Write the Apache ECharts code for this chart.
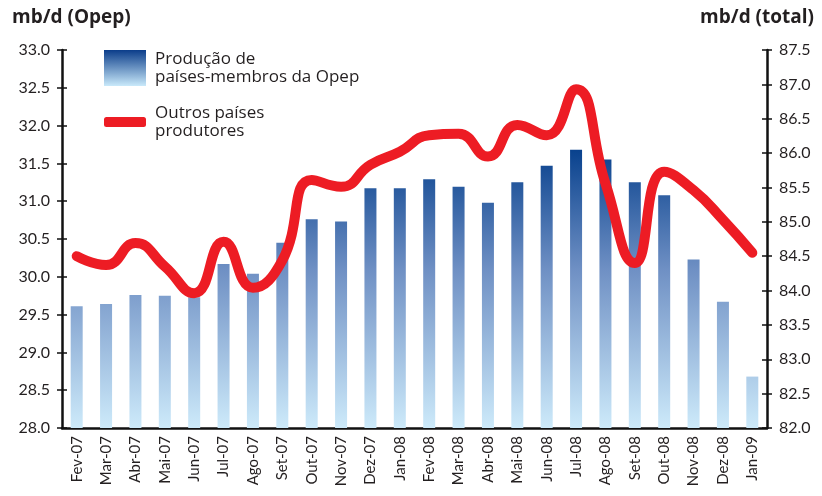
<!DOCTYPE html>
<html>
<head>
<meta charset="utf-8">
<script src="https://cdn.jsdelivr.net/npm/echarts@6/dist/echarts.min.js"></script>
<style>
  html, body { margin: 0; padding: 0; background: #fff; }
  #chart { width: 822px; height: 496px; }
</style>
</head>
<body>
<div id="chart"></div>
<script>
var months = ['Fev-07','Mar-07','Abr-07','Mai-07','Jun-07','Jul-07','Ago-07','Set-07','Out-07','Nov-07','Dez-07','Jan-08',
              'Fev-08','Mar-08','Abr-08','Mai-08','Jun-08','Jul-08','Ago-08','Set-08','Out-08','Nov-08','Dez-08','Jan-09'];
// produção Opep (mb/d, eixo esquerdo)
var opep = [29.61, 29.64, 29.76, 29.75, 29.73, 30.17, 30.04, 30.45, 30.76, 30.73, 31.17, 31.17,
            31.29, 31.19, 30.98, 31.25, 31.47, 31.68, 31.55, 31.25, 31.08, 30.23, 29.67, 28.68];
// outros países (mb/d total, eixo direito)
var outros = [84.50, 84.37, 84.69, 84.35, 83.96, 84.71, 84.04, 84.44, 85.61, 85.51, 85.83, 86.02,
              86.26, 86.28, 85.95, 86.41, 86.26, 86.93, 85.56, 84.40, 85.73, 85.46, 85.03, 84.55];

var nameOpep = 'Produção de\npaíses-membros da Opep';
var nameOutros = 'Outros países\nprodutores';

var font = 'Lato';
var chart = echarts.init(document.getElementById('chart'));

var barGrad = new echarts.graphic.LinearGradient(0, 140, 0, 428, [
  { offset: 0, color: '#003b89' },
  { offset: 0.45, color: '#6f90c4' },
  { offset: 1, color: '#cdeafa' }
], true);

function yAx(pos, min, max, inside) {
  return {
    type: 'value', position: pos, min: min, max: max, interval: 0.5,
    splitLine: { show: false },
    axisLine: { show: !inside, lineStyle: { color: '#111', width: 2.5 } },
    axisTick: { show: true, inside: !!inside, length: 5, lineStyle: { color: '#111', width: 1.5 } },
    axisLabel: {
      show: !inside, color: '#231f20', fontFamily: font, fontSize: 16, margin: 12,
      formatter: function (v) { return v.toFixed(1); }
    }
  };
}

var legendText = { fontFamily: 'Open Sans', fontSize: 17, lineHeight: 18, color: '#231f20', padding: [0, 0, 0, 4] };

var option = {
  animation: false,
  grid: { left: 62, right: 55, top: 50, bottom: 68 },
  graphic: [
    { type: 'text', left: 12, top: 8, style: { text: 'mb/d (Opep)', font: '700 19px "Open Sans"', fill: '#231f20' } },
    { type: 'text', right: 8, top: 8, style: { text: 'mb/d (total)', font: '700 19px "Open Sans"', fill: '#231f20' } }
  ],
  legend: [
    {
      left: 104, top: 50, padding: 0, itemWidth: 42, itemHeight: 36,
      textStyle: legendText,
      data: [{ name: nameOpep, icon: 'rect', itemStyle: { color: new echarts.graphic.LinearGradient(0, 0, 0, 1, [
        { offset: 0, color: '#0b3d8a' }, { offset: 1, color: '#c9e9fa' }]) } }]
    },
    {
      left: 104, top: 104, padding: 0, itemWidth: 42, itemHeight: 10,
      textStyle: legendText,
      data: [{ name: nameOutros, icon: 'roundRect', itemStyle: { color: '#ed1c24' } }]
    }
  ],
  xAxis: {
    type: 'category', data: months,
    axisLine: { lineStyle: { color: '#111', width: 2.5 } },
    axisTick: { length: 4, lineStyle: { color: '#111', width: 1.5 } },
    axisLabel: { rotate: 90, interval: 0, color: '#231f20', fontFamily: font, fontSize: 15, margin: 8 }
  },
  yAxis: [
    yAx('left', 28, 33),
    yAx('right', 82, 87.5),
    yAx('left', 28, 33, true),
    yAx('right', 82, 87.5, true)
  ],
  series: [
    {
      name: nameOpep, type: 'bar', data: opep, yAxisIndex: 0, barWidth: 12,
      itemStyle: { color: barGrad }
    },
    {
      name: nameOutros, type: 'line', data: outros, yAxisIndex: 1,
      smooth: 0.5, symbol: 'none', z: 5,
      lineStyle: { color: '#ed1c24', width: 10, cap: 'round', join: 'round' }
    }
  ]
};

option && chart.setOption(option);
</script>
</body>
</html>
